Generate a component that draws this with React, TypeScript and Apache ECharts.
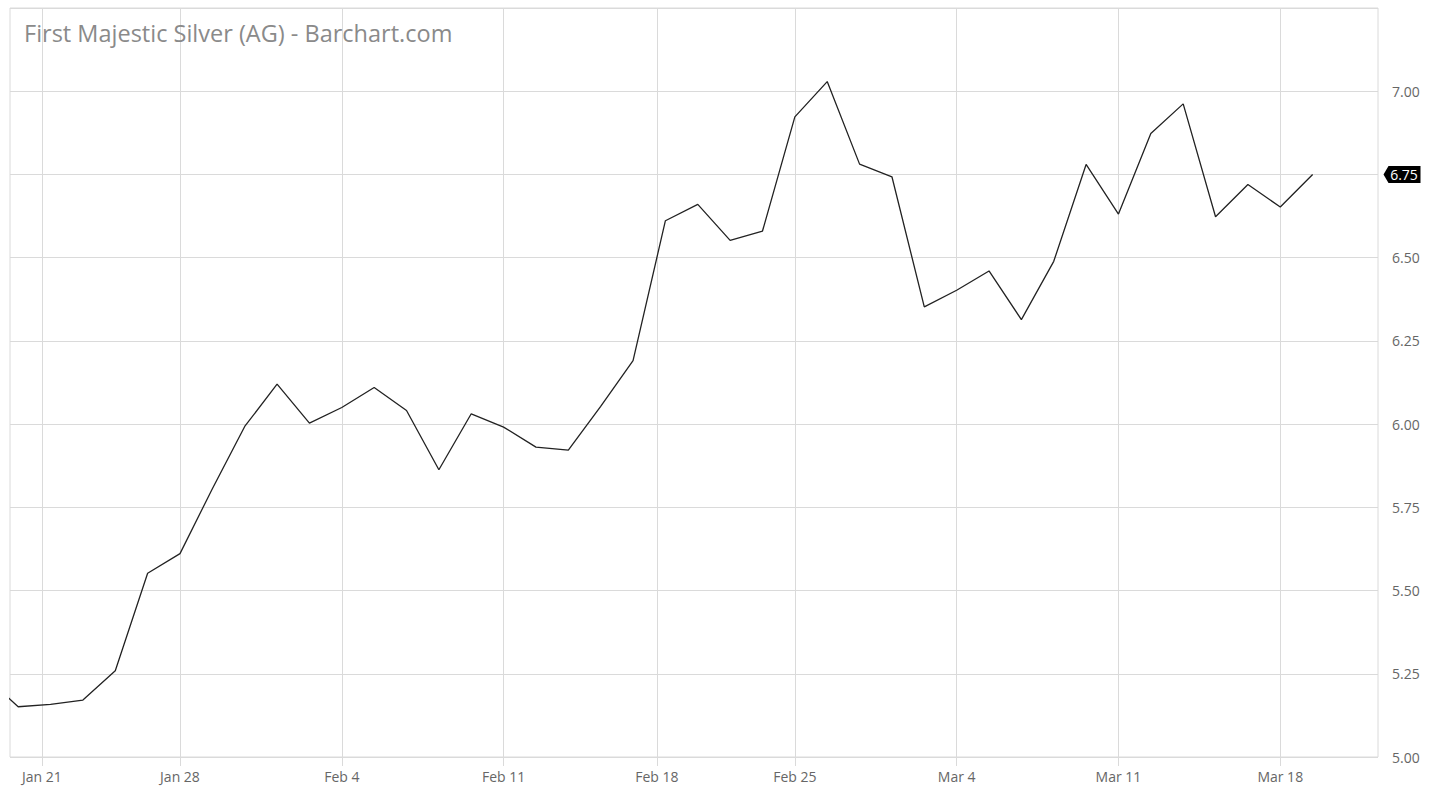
import React, { useEffect, useRef } from "react";
import * as echarts from "echarts";

// Trading days (index = position on the trading-day axis)
const dates: string[] = [
  "Jan 17", "Jan 18", "Jan 22", "Jan 23", "Jan 24", "Jan 25",
  "Jan 28", "Jan 29", "Jan 30", "Jan 31", "Feb 1",
  "Feb 4", "Feb 5", "Feb 6", "Feb 7", "Feb 8",
  "Feb 11", "Feb 12", "Feb 13", "Feb 14", "Feb 15",
  "Feb 19", "Feb 20", "Feb 21", "Feb 22",
  "Feb 25", "Feb 26", "Feb 27", "Feb 28", "Mar 1",
  "Mar 4", "Mar 5", "Mar 6", "Mar 7", "Mar 8",
  "Mar 11", "Mar 12", "Mar 13", "Mar 14", "Mar 15",
  "Mar 18", "Mar 19",
];

const closes: number[] = [
  5.24, 5.151, 5.158, 5.171, 5.259, 5.552,
  5.611, 5.806, 5.993, 6.12, 6.003,
  6.05, 6.11, 6.041, 5.863, 6.031,
  5.991, 5.931, 5.922, 6.053, 6.191,
  6.611, 6.66, 6.552, 6.58,
  6.923, 7.029, 6.781, 6.743, 6.352,
  6.402, 6.46, 6.314, 6.489, 6.78,
  6.631, 6.873, 6.962, 6.623, 6.72,
  6.652, 6.75,
];

// Weekly tick labels and their positions on the trading-day axis
// (holiday Mondays fall between the surrounding trading days)
const weekLabels: string[] = ["Jan 21", "Jan 28", "Feb 4", "Feb 11", "Feb 18", "Feb 25", "Mar 4", "Mar 11", "Mar 18"];
const weekTickIndex: number[] = [1.735, 6, 11, 16, 20.735, 25, 30, 35, 40];

const xMin = 0.747;
const xMax = 43.02;
const yMin = 5.0;
const yMax = 7.25;
const yStep = 0.25;
const lastPrice = closes[closes.length - 1];

const title = "First Majestic Silver (AG) - Barchart.com";

export default function App() {
  const ref = useRef<HTMLDivElement>(null);

  useEffect(() => {
    if (!ref.current) return;
    const chart = echarts.init(ref.current, undefined, { renderer: "svg" });
    const font = "'Open Sans', 'Noto Sans', sans-serif";
    const gridColor = "#dadada";

    chart.setOption({
      animation: false,
      backgroundColor: "#ffffff",
      textStyle: { fontFamily: font },
      title: {
        text: title,
        left: 19,
        top: 16,
        textStyle: { fontFamily: font, fontSize: 23.5, fontWeight: "normal", color: "#8a8a8a" },
      },
      grid: {
        left: 10,
        top: 8,
        right: 52,
        bottom: 38,
        show: true,
        borderColor: gridColor,
        borderWidth: 1,
        containLabel: false,
      },
      xAxis: {
        type: "value",
        min: xMin,
        max: xMax,
        axisLine: { show: false },
        axisTick: {
          show: true,
          customValues: weekTickIndex,
          length: 9,
          lineStyle: { color: gridColor },
        },
        axisLabel: {
          show: true,
          customValues: weekTickIndex,
          margin: 12,
          fontSize: 14,
          color: "#666666",
          fontFamily: font,
          formatter: (v: number) => {
            const k = weekTickIndex.findIndex((t) => Math.abs(t - v) < 1e-6);
            return k >= 0 ? weekLabels[k] : "";
          },
        },
        splitLine: { show: true, lineStyle: { color: gridColor, width: 1 } },
      },
      yAxis: {
        type: "value",
        position: "right",
        min: yMin,
        max: yMax,
        interval: yStep,
        axisLine: { show: false },
        axisTick: { show: false },
        axisLabel: {
          margin: 14,
          fontSize: 14,
          color: "#666666",
          fontFamily: font,
          formatter: (v: number) =>
            Math.abs(v - yMax) < 1e-6 || Math.abs(v - lastPrice) < 1e-6 ? "" : v.toFixed(2),
        },
        splitLine: { show: true, lineStyle: { color: gridColor, width: 1 } },
      },
      series: [
        {
          type: "line",
          name: "AG",
          data: closes.map((v, i) => [i, v]),
          symbol: "none",
          clip: true,
          lineStyle: { color: "#222222", width: 1.3 },
          markPoint: {
            symbol: "path://M0,8 L5,0 L37,0 L37,16 L5,16 Z",
            symbolSize: [37, 17],
            symbolOffset: [24, 0],
            itemStyle: { color: "#000000" },
            label: {
              show: true,
              position: "inside",
              offset: [2, 0],
              color: "#ffffff",
              fontSize: 14,
              fontFamily: font,
              formatter: () => lastPrice.toFixed(2),
            },
            data: [{ coord: [xMax, lastPrice], name: "last" }],
          },
        },
      ],
    });

    return () => chart.dispose();
  }, []);

  return (
    <div
      ref={ref}
      style={{ position: "fixed", left: 0, top: 0, width: 1430, height: 795, background: "#fff" }}
    />
  );
}
